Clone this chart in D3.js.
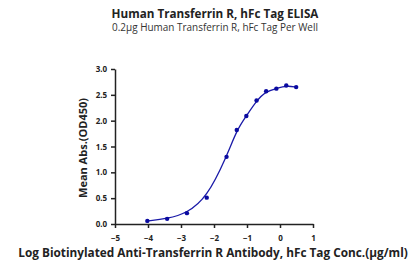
<!DOCTYPE html>
<html><head><meta charset="utf-8">
<script src="https://cdn.jsdelivr.net/npm/d3@7"></script>
<style>body{margin:0;background:#fff}svg{display:block}text{font-family:"Open Sans",sans-serif}</style>
</head><body>
<svg id="c" width="419" height="272"></svg>
<script>
const logConc = [-4.02, -3.42, -2.82, -2.22, -1.62, -1.31, -1.02, -0.71, -0.42, -0.11, 0.19, 0.49];
const od450 = [0.06, 0.10, 0.21, 0.51, 1.30, 1.82, 2.09, 2.39, 2.57, 2.62, 2.68, 2.65];
const xTicks = [-5, -4, -3, -2, -1, 0, 1];
const yTicks = [0.0, 0.5, 1.0, 1.5, 2.0, 2.5, 3.0];
const title = "Human Transferrin R, hFc Tag ELISA";
const subtitle = "0.2\u00b5g Human Transferrin R, hFc Tag Per Well";
const xTitle = "Log Biotinylated Anti-Transferrin R Antibody, hFc Tag Conc.(\u00b5g/ml)";
const yTitle = "Mean Abs.(OD450)";

const svg = d3.select("#c");
const x = d3.scaleLinear().domain([-5, 1]).range([115, 313]);
const y = d3.scaleLinear().domain([0, 3]).range([224, 69]);
const col = "#1a1aa8";

const xa = svg.append("g").attr("transform", "translate(0,224)")
  .call(d3.axisBottom(x).tickValues(xTicks).tickSize(4).tickSizeOuter(0).tickFormat(d3.format("d")));
const ya = svg.append("g").attr("transform", "translate(115,0)")
  .call(d3.axisLeft(y).tickValues(yTicks).tickSize(4).tickSizeOuter(0).tickFormat(d3.format(".1f")));
[xa, ya].forEach(a => {
  a.select(".domain").attr("stroke", "#222").attr("stroke-width", 1.5);
  a.selectAll(".tick line").attr("stroke", "#222").attr("stroke-width", 1.5);
  a.selectAll("text").attr("font-family", "'Open Sans', sans-serif").attr("font-weight", "bold")
    .attr("font-size", 8).attr("fill", "#222");
});
xa.selectAll("text").attr("dy", "1.25em");
ya.selectAll("text").attr("dx", "-0.1em");

const data = logConc.map((v, i) => [v, od450[i]]);
svg.append("path").datum(data)
  .attr("d", d3.line().x(d => x(d[0])).y(d => y(d[1])).curve(d3.curveBasis))
  .attr("fill", "none").attr("stroke", col).attr("stroke-width", 1.3);
svg.append("g").selectAll("circle").data(data).join("circle")
  .attr("cx", d => x(d[0])).attr("cy", d => y(d[1])).attr("r", 2.2).attr("fill", "#0a0aa0");

function fit(sel, target) {
  const w = sel.node().getComputedTextLength();
  const fs = +sel.attr("font-size");
  sel.attr("font-size", fs * target / w);
}
const t1 = svg.append("text").attr("x", 215).attr("y", 18).attr("text-anchor", "middle")
  .attr("font-weight", "bold").attr("font-size", 10.5).attr("fill", "#222").text(title);
fit(t1, 207);
const t2 = svg.append("text").attr("x", 215).attr("y", 31).attr("text-anchor", "middle")
  .attr("font-size", 8).attr("fill", "#333").text(subtitle);
fit(t2, 206);
const t3 = svg.append("text").attr("x", 213).attr("y", 257).attr("text-anchor", "middle")
  .attr("font-weight", "bold").attr("font-size", 10.5).attr("fill", "#222").text(xTitle);
fit(t3, 390);
const t4 = svg.append("text").attr("transform", "translate(87,148) rotate(-90)").attr("text-anchor", "middle")
  .attr("font-weight", "bold").attr("font-size", 9.5).attr("fill", "#222").text(yTitle);
fit(t4, 100);
</script>
</body></html>
